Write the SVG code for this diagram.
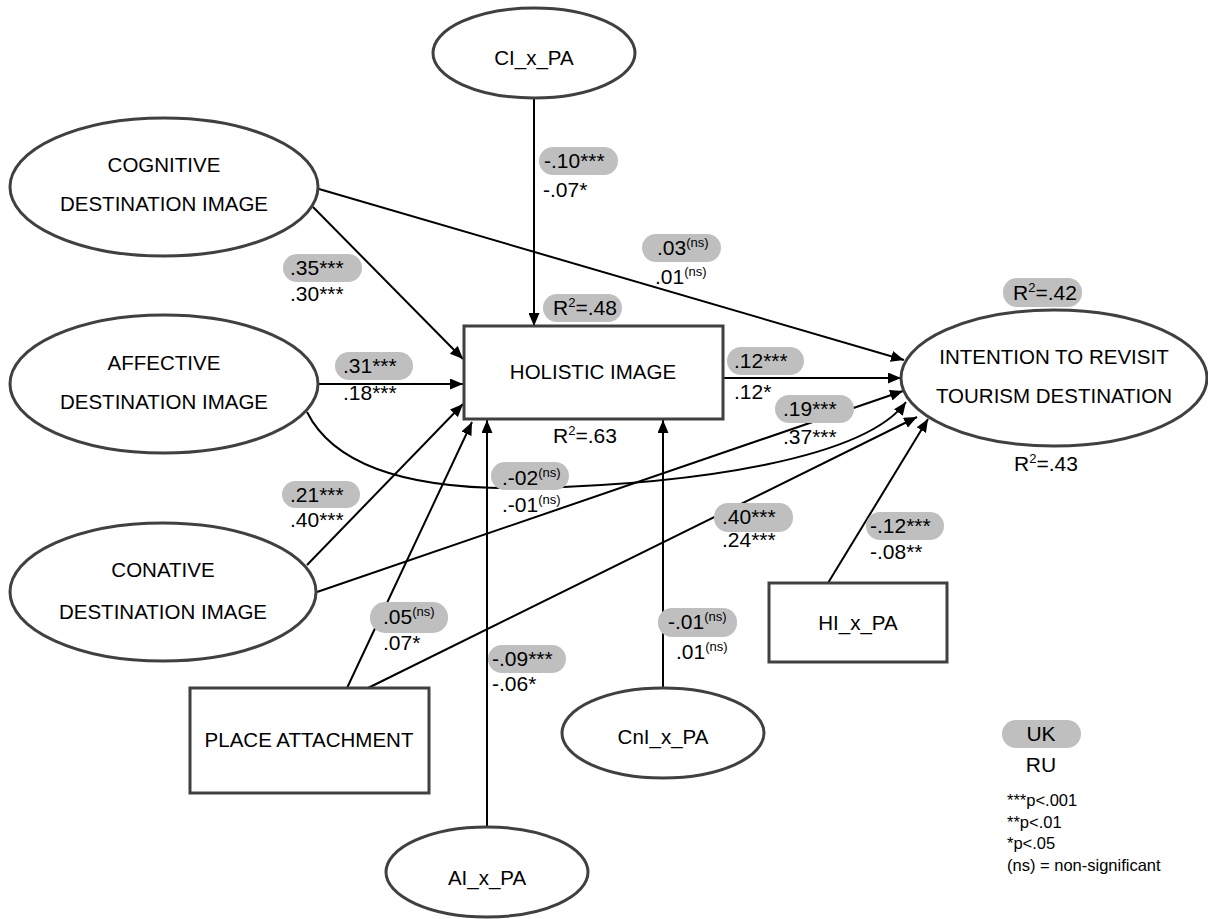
<svg xmlns="http://www.w3.org/2000/svg" width="1208" height="919" viewBox="0 0 1208 919">
<style>
  .node { fill: #ffffff; stroke: #404040; stroke-width: 3; }
  .lbl { font-family: "Liberation Sans", Arial, sans-serif; font-size: 21px; fill: #000; }
  .nt { font-family: "Liberation Sans", Arial, sans-serif; font-size: 20.5px; fill: #000; text-anchor: middle; }
  .pill { fill: #bfbfbf; }
  .conn { fill: none; stroke: #000; stroke-width: 2; }
  .leg { font-family: "Liberation Sans", Arial, sans-serif; font-size: 16.5px; fill: #000; }
  .sup { font-size: 13px; }
</style>
<defs>
  <marker id="arr" viewBox="0 0 13 11" refX="13" refY="5.5" markerWidth="13" markerHeight="11" markerUnits="userSpaceOnUse" orient="auto">
    <path d="M0,0 L13,5.5 L0,11 Z" fill="#000"/>
  </marker>
</defs>
<rect width="1208" height="919" fill="#ffffff"/>

<g id="connectors">
  <path class="conn" d="M534,98 L534,326" marker-end="url(#arr)"/>
  <path class="conn" d="M313,207 L463,359" marker-end="url(#arr)"/>
  <path class="conn" d="M319,189 L904,360" marker-end="url(#arr)"/>
  <path class="conn" d="M318,384 L463,384" marker-end="url(#arr)"/>
  <path class="conn" d="M307,412 C340,478 440,490 530,488 C700,484 865,458 906,402" marker-end="url(#arr)"/>
  <path class="conn" d="M307,565 L463,404" marker-end="url(#arr)"/>
  <path class="conn" d="M317,592 L903,391" marker-end="url(#arr)"/>
  <path class="conn" d="M347,688 L472,422" marker-end="url(#arr)"/>
  <path class="conn" d="M487,828 L487,420" marker-end="url(#arr)"/>
  <path class="conn" d="M663,688 L663,420" marker-end="url(#arr)"/>
  <path class="conn" d="M723,378 L901,378" marker-end="url(#arr)"/>
  <path class="conn" d="M368,688 L917,417" marker-end="url(#arr)"/>
  <path class="conn" d="M828,583 L928,419" marker-end="url(#arr)"/>
</g>

<g id="cognitive">
  <ellipse class="node" cx="164" cy="187" rx="154" ry="69"/>
  <text class="nt" x="164" y="172">COGNITIVE</text>
  <text class="nt" x="164" y="211">DESTINATION IMAGE</text>
</g>
<g id="affective">
  <ellipse class="node" cx="164" cy="384" rx="154" ry="69"/>
  <text class="nt" x="164" y="370">AFFECTIVE</text>
  <text class="nt" x="164" y="409">DESTINATION IMAGE</text>
</g>
<g id="conative">
  <ellipse class="node" cx="163" cy="592" rx="153" ry="69"/>
  <text class="nt" x="163" y="577">CONATIVE</text>
  <text class="nt" x="163" y="619">DESTINATION IMAGE</text>
</g>
<g id="ci_x_pa">
  <ellipse class="node" cx="534" cy="53" rx="101" ry="45"/>
  <text class="nt" x="534" y="65">CI_x_PA</text>
</g>
<g id="holistic">
  <rect class="node" x="464" y="326" width="259" height="93"/>
  <text class="nt" x="593" y="379">HOLISTIC IMAGE</text>
</g>
<g id="intention">
  <ellipse class="node" cx="1054" cy="378" rx="153" ry="68"/>
  <text class="nt" x="1054" y="364">INTENTION TO REVISIT</text>
  <text class="nt" x="1054" y="403">TOURISM DESTINATION</text>
</g>
<g id="place_attachment">
  <rect class="node" x="190" y="688" width="239" height="105"/>
  <text class="nt" x="309" y="747">PLACE ATTACHMENT</text>
</g>
<g id="hi_x_pa">
  <rect class="node" x="769" y="583" width="178" height="79"/>
  <text class="nt" x="858" y="630">HI_x_PA</text>
</g>
<g id="cni_x_pa">
  <ellipse class="node" cx="663" cy="733" rx="101" ry="45"/>
  <text class="nt" x="663" y="744">CnI_x_PA</text>
</g>
<g id="ai_x_pa">
  <ellipse class="node" cx="487" cy="872" rx="101" ry="45"/>
  <text class="nt" x="487" y="885">AI_x_PA</text>
</g>

<g id="labels">
  <rect class="pill" x="283" y="254" width="79" height="28" rx="14"/>
  <text class="lbl" x="290" y="275">.35***</text>
  <text class="lbl" x="290" y="301">.30***</text>

  <rect class="pill" x="335" y="352" width="78" height="28" rx="14"/>
  <text class="lbl" x="343" y="373">.31***</text>
  <text class="lbl" x="343" y="400">.18***</text>

  <rect class="pill" x="539" y="147" width="79" height="28" rx="14"/>
  <text class="lbl" x="544" y="168">-.10***</text>
  <text class="lbl" x="543" y="197">-.07*</text>

  <rect class="pill" x="642" y="234" width="79" height="28" rx="14"/>
  <text class="lbl" x="657" y="255">.03<tspan class="sup" dy="-8">(ns)</tspan></text>
  <text class="lbl" x="655" y="284">.01<tspan class="sup" dy="-8">(ns)</tspan></text>

  <rect class="pill" x="727" y="347" width="77" height="28" rx="14"/>
  <text class="lbl" x="734" y="368">.12***</text>
  <text class="lbl" x="734" y="399">.12*</text>

  <rect class="pill" x="775" y="395" width="79" height="28" rx="14"/>
  <text class="lbl" x="783" y="416">.19***</text>
  <text class="lbl" x="783" y="444">.37***</text>

  <rect class="pill" x="491" y="462" width="78" height="28" rx="14"/>
  <text class="lbl" x="502" y="485">.-02<tspan class="sup" dy="-8">(ns)</tspan></text>
  <text class="lbl" x="502" y="512">.-01<tspan class="sup" dy="-8">(ns)</tspan></text>

  <rect class="pill" x="282" y="481" width="78" height="27" rx="13.5"/>
  <text class="lbl" x="290" y="502">.21***</text>
  <text class="lbl" x="290" y="527">.40***</text>

  <rect class="pill" x="714" y="503" width="79" height="29" rx="14"/>
  <text class="lbl" x="722" y="524">.40***</text>
  <text class="lbl" x="722" y="547">.24***</text>

  <rect class="pill" x="370" y="602" width="78" height="31" rx="15"/>
  <text class="lbl" x="383" y="624">.05<tspan class="sup" dy="-8">(ns)</tspan></text>
  <text class="lbl" x="383" y="650">.07*</text>

  <rect class="pill" x="488" y="645" width="78" height="28" rx="14"/>
  <text class="lbl" x="492" y="666">-.09***</text>
  <text class="lbl" x="492" y="691">-.06*</text>

  <rect class="pill" x="658" y="608" width="79" height="29" rx="14"/>
  <text class="lbl" x="668" y="629">-.01<tspan class="sup" dy="-8">(ns)</tspan></text>
  <text class="lbl" x="676" y="659">.01<tspan class="sup" dy="-8">(ns)</tspan></text>

  <rect class="pill" x="866" y="512" width="78" height="28" rx="14"/>
  <text class="lbl" x="870" y="533">-.12***</text>
  <text class="lbl" x="870" y="559">-.08**</text>

  <rect class="pill" x="543" y="294" width="79" height="28" rx="14"/>
  <text class="lbl" x="553" y="315">R<tspan class="sup" dy="-8">2</tspan><tspan dy="8">=.48</tspan></text>

  <text class="lbl" x="553" y="443">R<tspan class="sup" dy="-8">2</tspan><tspan dy="8">=.63</tspan></text>

  <rect class="pill" x="1003" y="278" width="79" height="29" rx="14"/>
  <text class="lbl" x="1013" y="300">R<tspan class="sup" dy="-8">2</tspan><tspan dy="8">=.42</tspan></text>

  <text class="lbl" x="1014" y="471">R<tspan class="sup" dy="-8">2</tspan><tspan dy="8">=.43</tspan></text>
</g>

<g id="legend">
  <rect class="pill" x="1002" y="720" width="79" height="28" rx="14"/>
  <text class="lbl" x="1041" y="741" text-anchor="middle">UK</text>
  <text class="lbl" x="1041" y="772" text-anchor="middle">RU</text>
  <text class="leg" x="1007" y="806">***p&lt;.001</text>
  <text class="leg" x="1007" y="828">**p&lt;.01</text>
  <text class="leg" x="1007" y="849">*p&lt;.05</text>
  <text class="leg" x="1007" y="871">(ns) = non-significant</text>
</g>
</svg>
